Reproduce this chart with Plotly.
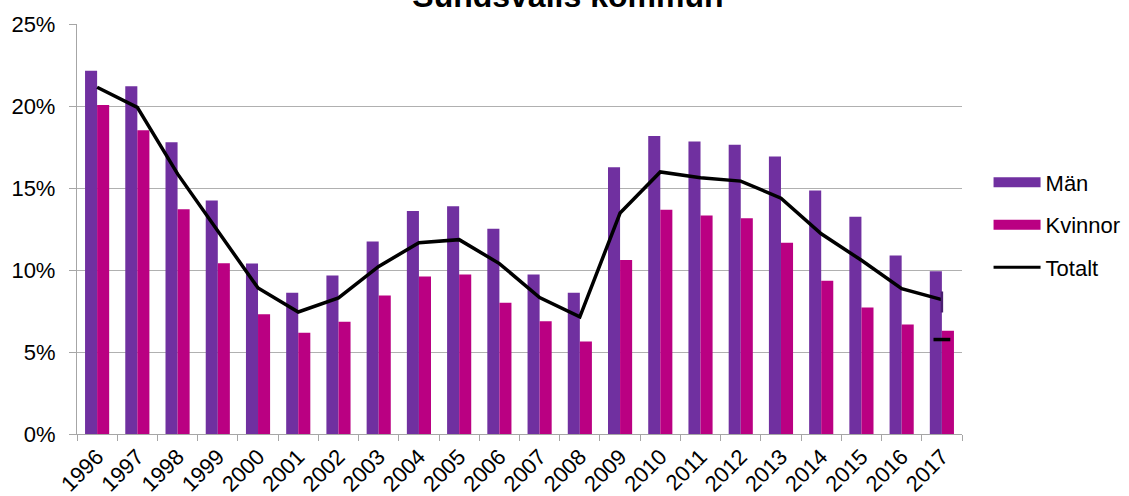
import plotly.graph_objects as go

years = [str(y) for y in range(1996, 2018)]
man = [22.15, 21.2, 17.79, 14.24, 10.39, 8.62, 9.66, 11.74, 13.59, 13.89, 12.52,
       9.72, 8.62, 16.27, 18.17, 17.83, 17.63, 16.92, 14.85, 13.25, 10.89, 9.92]
kvinnor = [20.06, 18.52, 13.71, 10.41, 7.30, 6.17, 6.84, 8.44, 9.61, 9.72, 8.01,
           6.88, 5.64, 10.61, 13.67, 13.33, 13.16, 11.66, 9.35, 7.71, 6.67, 6.29]
totalt = [21.14, 19.92, 15.86, 12.41, 8.90, 7.44, 8.30, 10.22, 11.66, 11.85, 10.39,
          8.32, 7.14, 13.47, 15.98, 15.62, 15.42, 14.38, 12.21, 10.59, 8.86, 8.19]
extra_year = ["2017"]
extra_dash = [5.76]
extra_tick = [8.05]

col_man = "#7030A0"
col_kv = "#BA0082"
font = "Arial, Liberation Sans, sans-serif"
fs = 22

fig = go.Figure()
fig.add_trace(go.Bar(x=years, y=man, name="Män", marker=dict(color=col_man, line=dict(width=0)),
                     showlegend=False))
fig.add_trace(go.Bar(x=years, y=kvinnor, name="Kvinnor", marker=dict(color=col_kv, line=dict(width=0)),
                     showlegend=False))
fig.add_trace(go.Scatter(x=years, y=totalt, name="Totalt", mode="lines",
                         line=dict(color="black", width=3.5), showlegend=False))
fig.add_trace(go.Scatter(x=extra_year, y=extra_tick, mode="markers", showlegend=False, hoverinfo="skip",
                         marker=dict(symbol="line-ns", size=15, line=dict(color="#4a2070", width=2.5))))
fig.add_trace(go.Scatter(x=extra_year, y=extra_dash, mode="markers", showlegend=False, hoverinfo="skip",
                         marker=dict(symbol="line-ew", size=12, line=dict(color="black", width=3.5))))
# legend entries (swatches drawn as wide bands like the original)
fig.add_trace(go.Scatter(x=[years[0]], y=[None], mode="lines", name="Män", legendgroup="a",
                         line=dict(color=col_man, width=10)))
fig.add_trace(go.Scatter(x=[years[0]], y=[None], mode="lines", name="Kvinnor", legendgroup="b",
                         line=dict(color=col_kv, width=10)))
fig.add_trace(go.Scatter(x=[years[0]], y=[None], mode="lines", name="Totalt", legendgroup="c",
                         line=dict(color="black", width=3)))

fig.update_layout(
    width=1129, height=496,
    margin=dict(l=77, r=167, t=24, b=62, autoexpand=False),
    paper_bgcolor="white", plot_bgcolor="white",
    font=dict(family=font, size=fs, color="black"),
    barmode="group", bargap=0.4, bargroupgap=0,
    title=dict(text="<b>Sundsvalls kommun</b>", font=dict(family=font, size=32, color="black"),
               x=0.503, xanchor="center", xref="container",
               y=1 - 7 / 496, yanchor="bottom", yref="container"),
    legend=dict(x=1.030, y=0.665, xanchor="left", yanchor="top", font=dict(size=fs),
                tracegroupgap=11, itemwidth=47, bgcolor="rgba(0,0,0,0)"),
    showlegend=True,
)
fig.update_xaxes(type="category", categoryorder="array", categoryarray=years,
                 range=[-0.5, len(years) - 0.5],
                 showgrid=False, showline=True, linecolor="#a6a6a6", linewidth=1.3,
                 ticks="outside", tickson="boundaries", ticklen=6, tickcolor="#a6a6a6",
                 tickangle=-45, tickfont=dict(size=fs), automargin=False)
fig.update_yaxes(range=[0, 25], dtick=5, ticksuffix="%", showgrid=True, gridcolor="#b0b0b0",
                 gridwidth=1.3, showline=True, linecolor="#a6a6a6", linewidth=1.3,
                 ticks="outside", ticklen=7, tickcolor="#a6a6a6", tickfont=dict(size=fs),
                 zeroline=False, ticklabelstandoff=9, automargin=False)

fig.write_html("out.html", config={"displayModeBar": False},
               post_script="document.body.style.margin='0';")
